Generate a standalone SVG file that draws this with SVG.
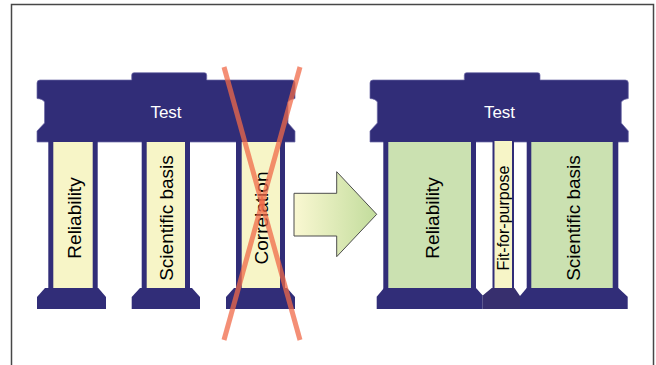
<svg xmlns="http://www.w3.org/2000/svg" width="656" height="365" viewBox="0 0 656 365">
  <defs>
    <linearGradient id="arrowGrad" x1="0" y1="0" x2="1" y2="0">
      <stop offset="0" stop-color="#faf8d2"/>
      <stop offset="1" stop-color="#c2dc9c"/>
    </linearGradient>
  </defs>
  <style>
    .navy { fill: #312d78; }
    .roof { fill: #312d78; stroke: #6f6aa8; stroke-width: 0.7; }
    .yellow { fill: #f7f5c7; }
    .green { fill: #cbe1b1; }
    .lbl { font-family: "Liberation Sans", Arial, sans-serif; font-size: 19px; fill: #000; text-anchor: middle; dominant-baseline: central; }
    .small { font-size: 16px; }
    .test { font-family: "Liberation Sans", Arial, sans-serif; font-size: 17px; fill: #ffffff; text-anchor: middle; }
    .cross { stroke: #f06a48; stroke-width: 5; stroke-opacity: 0.75; fill: none; }
  </style>

  <rect x="11.5" y="4.5" width="642" height="400" fill="#ffffff" stroke="#474747" stroke-width="1.5"/>

  <g id="left-temple">
    <path class="roof" d="M37,83 Q37,80 40,80 H131.7 V75 Q131.7,72.7 134,72.7 H204.4 Q206.7,72.7 206.7,75 V80 H292 Q295,80 295,83 V98.5 Q290,99 288,102 V123 L295,131 V142 H37 V131 L44.5,123 V102 Q43,99 37,98.5 Z"/>
    <text class="test" x="166" y="118">Test</text>
    <rect class="navy" x="48.3" y="141" width="49.4" height="148"/>
    <rect class="yellow" x="53.3" y="142" width="39.4" height="146"/>
    <rect class="navy" x="141.7" y="141" width="48.3" height="148"/>
    <rect class="yellow" x="146.7" y="142" width="38.3" height="146"/>
    <rect class="navy" x="236" y="141" width="49" height="148"/>
    <rect class="yellow" x="241.7" y="142" width="38.3" height="146"/>
    <polygon class="navy" points="37,309 37,297 45,288 98.3,288 106,297 106,309"/>
    <polygon class="navy" points="131.7,309 131.7,297 140,288 192,288 200,297 200,309"/>
    <polygon class="navy" points="226,309 226,297 234,288 287,288 295,297 295,309"/>
    <text class="lbl" transform="translate(74,218) rotate(-90)">Reliability</text>
    <text class="lbl" transform="translate(166.5,218) rotate(-90)">Scientific basis</text>
    <text class="lbl" transform="translate(261,218) rotate(-90)">Correlation</text>
  </g>

  <g id="cross">
    <line class="cross" x1="224" y1="67" x2="300" y2="340"/>
    <line class="cross" x1="300" y1="67" x2="224" y2="340"/>
  </g>

  <g id="connectors">
    <polygon points="294,193.3 336.7,193.3 336.7,171.7 376.7,214.3 336.7,256.7 336.7,236 294,236" fill="url(#arrowGrad)" stroke="#4d4d4d" stroke-width="1"/>
  </g>

  <g id="right-temple">
    <path class="roof" d="M370,83 Q370,80 373,80 H464.3 V75 Q464.3,72.7 466.6,72.7 H537.7 Q540,72.7 540,75 V80 H625.3 Q628.3,80 628.3,83 V98.5 Q623.3,99 621.3,102 V123 L628.3,131 V142 H370 V131 L377.3,123 V102 Q375.8,99 370,98.5 Z"/>
    <text class="test" x="499.5" y="118">Test</text>
    <rect class="navy" x="383.3" y="141" width="92.7" height="148"/>
    <rect class="green" x="388.3" y="142" width="82.7" height="146"/>
    <rect class="navy" x="492.5" y="141" width="21.5" height="148"/>
    <rect class="yellow" x="494.5" y="141" width="17.5" height="147"/>
    <rect class="navy" x="526.7" y="141" width="91.6" height="148"/>
    <rect class="green" x="531.3" y="142" width="81.4" height="146"/>
    <polygon class="navy" points="376.7,309 376.7,296.7 384,288 476,288 482.7,295.5 482.7,309"/>
    <polygon fill="#372f6e" points="482.7,309 482.7,295.5 491.7,288 514.5,288 520,296 520,309"/>
    <polygon class="navy" points="520,309 520,296 526.7,288 618.3,288 627.7,296.7 627.7,309"/>
    <text class="lbl" transform="translate(432,218) rotate(-90)">Reliability</text>
    <text class="lbl small" transform="translate(503.5,218) rotate(-90)">Fit-for-purpose</text>
    <text class="lbl" transform="translate(573.5,218) rotate(-90)">Scientific basis</text>
  </g>
</svg>
